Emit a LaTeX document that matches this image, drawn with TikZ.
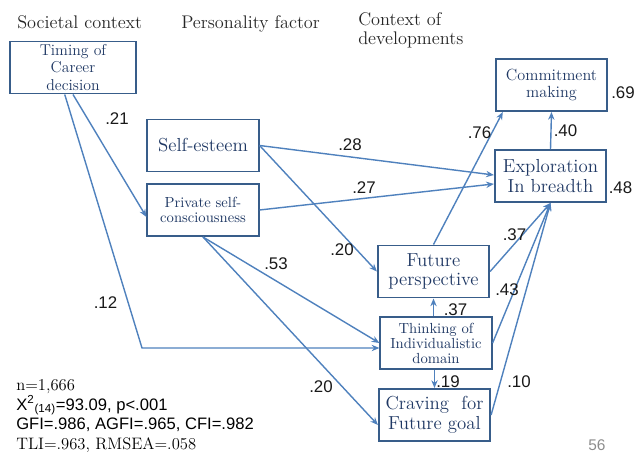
\documentclass[tikz,border=0pt]{standalone}
\usepackage{fontspec}
\newfontfamily\numfont{Liberation Sans}
\usetikzlibrary{positioning,arrows.meta}
\definecolor{boxline}{RGB}{56,93,138}
\definecolor{boxtext}{RGB}{31,56,100}
\definecolor{pathline}{RGB}{79,129,189}
\tikzset{
    var/.style={rectangle, draw=boxline, line width=1.4pt, fill=white, text=boxtext, align=center, inner sep=0pt, minimum width=2.78cm, minimum height=1.3cm},
    bigtext/.style={font=\fontsize{13.4}{14}\selectfont},
    smalltext/.style={font=\fontsize{10.4}{10.7}\selectfont},
    head/.style={anchor=north west, align=left, inner sep=0pt, font=\fontsize{13}{13.5}\selectfont, text=black!85},
    coef/.style={font=\numfont\fontsize{12}{12}\selectfont, inner sep=0pt, text=black!90},
    arr/.style={line width=1pt, draw=pathline, -{Stealth[length=5.5pt,width=4.5pt]}}
    }

\begin{document}
\begin{tikzpicture}[x=0.025cm, y=-0.025cm]
        \useasboundingbox (0,0) rectangle (643,452);
        % column headings
        \node[head] (hsoc) at (17,15) {Societal context};
        \node[head] (hpers) at (181,15) {Personality factor};
        \node[head] (hdev) at (358,12) {Context of\\developments};

        % variables
        \node[var, minimum width=3.15cm, font=\fontsize{11.2}{12.4}\selectfont] (timing) at (73,67.5) {Timing of\\Career\\decision};
        \node[var, bigtext] (esteem) at (203,145.5) {Self-esteem};
        \node[var, smalltext] (private) at (203,210) {Private self-\\consciousness};
        \node[var, font=\fontsize{11.5}{12}\selectfont] (commit) at (551.5,85) {Commitment\\making};
        \node[var, bigtext] (explore) at (550.5,176) {Exploration\\In breadth};
        \node[var, bigtext] (future) at (433.5,271.5) {Future\\perspective};
        \node[var, smalltext] (thinking) at (436,343) {Thinking of\\Individualistic\\domain};
        \node[var, bigtext] (craving) at (434.5,415) {Craving~~for\\Future goal};

        % paths
        \coordinate (corner) at (142,348);
        \draw[arr] (timing.south) -- (private.187);
        \draw[arr] (timing.253) -- (corner) -- (corner -| thinking.west);
        \draw[arr] (esteem.east) -- (explore.179);
        \draw[arr] (esteem.east) -- (future.west);
        \draw[arr] (private.east) -- (explore.188);
        \draw[arr] (private.south) -- (thinking.west);
        \draw[arr] (private.south) -- (craving.190);
        \draw[arr] (future.north) -- (commit.209);
        \draw[arr] (explore.north) -- (commit.south);
        \draw[arr] (future.east) -- (explore.south);
        \draw[arr] (thinking.east) -- (explore.south);
        \draw[arr] (craving.east) -- (explore.south);
        \draw[arr] (thinking.north -| future.south) -- (future.south);
        \draw[arr] (thinking.south -| craving.north) -- (craving.north);

        % path coefficients
        \node[coef] (c21) at (117,118.5) {.21};
        \node[coef] (c12) at (105.5,303) {.12};
        \node[coef] (c28) at (350,144.5) {.28};
        \node[coef] (c27) at (364,187.5) {.27};
        \node[coef] (c20a) at (342,250) {.20};
        \node[coef] (c53) at (276,264) {.53};
        \node[coef] (c20b) at (321,386.5) {.20};
        \node[coef] (c76) at (479.5,132.5) {.76};
        \node[coef] (c40) at (565.5,131) {.40};
        \node[coef] (c69) at (623,92.5) {.69};
        \node[coef] (c48) at (620.5,187.5) {.48};
        \node[coef] (c37a) at (514.5,235) {.37};
        \node[coef] (c43) at (507,289.5) {.43};
        \node[coef] (c37b) at (455.5,309.5) {.37};
        \node[coef] (c19) at (448,381.5) {.19};
        \node[coef] (c10) at (519,381.5) {.10};

        % fit indices
        \node[anchor=north west, align=left, inner sep=0pt, font=\fontsize{11.8}{14}\selectfont] (fit) at (16,379) {n=1,666\\
        {\numfont X\textsuperscript{2}\textsubscript{(14)}=93.09, p<.001}\\
        {\numfont GFI=.986, AGFI=.965, CFI=.982}\\
        TLI=.963, RMSEA=.058};
        \node[anchor=base west, inner sep=0pt, text=black!45, font=\numfont\fontsize{11}{11}\selectfont] (page) at (588,450) {56};
\end{tikzpicture}
\end{document}
